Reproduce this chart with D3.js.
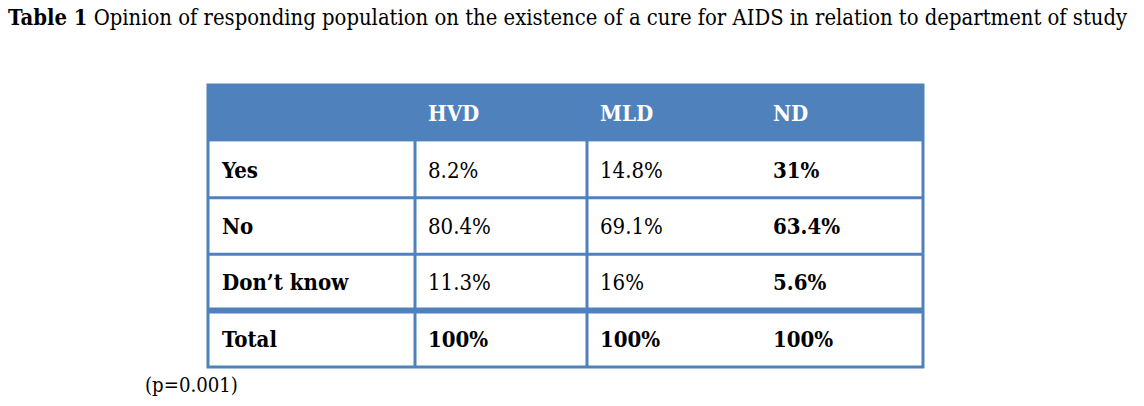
<!DOCTYPE html>
<html>
<head>
<meta charset="utf-8">
<script src="https://cdn.jsdelivr.net/npm/d3@7"></script>
<style>
  html, body { margin: 0; padding: 0; background: #fff; }
  svg { display: block; }
  text { font-family: "DejaVu Serif Condensed", "DejaVu Serif", "Liberation Serif", serif; }
</style>
</head>
<body>
<svg id="chart" width="1144" height="406"></svg>
<script>
// ---- data ----
const titleBold = "Table 1";
const titleRest = " Opinion of responding population on the existence of a cure for AIDS in relation to department of study";
const columns = ["HVD", "MLD", "ND"];
const rowLabels = ["Yes", "No", "Don’t know", "Total"];
const hvdValues = ["8.2%", "80.4%", "11.3%", "100%"];
const mldValues = ["14.8%", "69.1%", "16%", "100%"];
const ndValues = ["31%", "63.4%", "5.6%", "100%"];
const boldColumns = ["ND"];
const boldRows = ["Total"];
const footnote = "(p=0.001)";

// ---- layout ----
const W = 1144, H = 406;
const blue = "#4F81BD";
const tableTop = 85, tableBottom = 367;
const colEdges = [208, 415, 587, 760, 923];

const svg = d3.select("#chart");

// Title, fitted to the reference width
const title = svg.append("text").attr("x", 8).attr("y", 25).attr("font-size", 20).attr("fill", "#000");
title.append("tspan").attr("font-weight", "bold").text(titleBold);
title.append("tspan").text(titleRest);
const tw = title.node().getComputedTextLength();
title.attr("font-size", 20 * 1120 / tw);

// cell font fitted so that "80.4%" is ~63px wide, as in the reference
const probe = svg.append("text").attr("font-size", 20).text(hvdValues[1]);
const cellFont = 20 * 63 / probe.node().getComputedTextLength();
probe.remove();

// scales
const rowKeys = ["__header"].concat(rowLabels);
const y = d3.scaleBand().domain(rowKeys).range([tableTop, tableBottom]).paddingInner(0).paddingOuter(0);
const colKeys = ["__label"].concat(columns);
const x = d3.scaleOrdinal().domain(colKeys).range(colEdges.slice(0, 4));
const colValues = { HVD: hvdValues, MLD: mldValues, ND: ndValues };

// header fill
svg.append("rect")
  .attr("x", colEdges[0]).attr("y", y("__header"))
  .attr("width", colEdges[4] - colEdges[0]).attr("height", y.bandwidth())
  .attr("fill", blue);

// horizontal lines between body rows
rowLabels.forEach((r, i) => {
  if (i === 0) return;
  const yy = y(r);
  const thick = boldRows.includes(r);
  svg.append("line")
    .attr("x1", colEdges[0]).attr("x2", colEdges[4])
    .attr("y1", yy).attr("y2", yy)
    .attr("stroke", blue).attr("stroke-width", thick ? 6 : 3);
});

// vertical lines (label | HVD | MLD+ND)
[colEdges[1], colEdges[2]].forEach(xx => {
  svg.append("line")
    .attr("x1", xx).attr("x2", xx)
    .attr("y1", tableTop).attr("y2", tableBottom)
    .attr("stroke", blue).attr("stroke-width", 3);
});

// outer border
svg.append("rect")
  .attr("x", colEdges[0]).attr("y", tableTop)
  .attr("width", colEdges[4] - colEdges[0]).attr("height", tableBottom - tableTop)
  .attr("fill", "none").attr("stroke", blue).attr("stroke-width", 3);

// header texts
const pad = 13;
svg.selectAll("text.hdr").data(columns).join("text")
  .attr("class", "hdr")
  .attr("x", d => x(d) + pad)
  .attr("y", y("__header") + y.bandwidth() / 2)
  .attr("dy", "0.36em")
  .attr("font-size", cellFont).attr("font-weight", "bold").attr("fill", "#fff")
  .text(d => d);

// row labels
svg.selectAll("text.rl").data(rowLabels).join("text")
  .attr("class", "rl")
  .attr("x", x("__label") + 14)
  .attr("y", d => y(d) + y.bandwidth() / 2)
  .attr("dy", "0.36em")
  .attr("font-size", cellFont).attr("font-weight", "bold").attr("fill", "#000")
  .text(d => d);

// values
columns.forEach(c => {
  svg.selectAll("text.v" + c).data(colValues[c]).join("text")
    .attr("class", "v" + c)
    .attr("x", x(c) + pad)
    .attr("y", (d, i) => y(rowLabels[i]) + y.bandwidth() / 2)
    .attr("dy", "0.36em")
    .attr("font-size", cellFont)
    .attr("font-weight", (d, i) => (boldColumns.includes(c) || boldRows.includes(rowLabels[i])) ? "bold" : "normal")
    .attr("fill", "#000")
    .text(d => d);
});

// footnote, fitted to ~93px wide
const foot = svg.append("text").attr("x", 145).attr("y", 392)
  .attr("font-size", 20).attr("fill", "#000").text(footnote);
foot.attr("font-size", 20 * 93 / foot.node().getComputedTextLength());
</script>
</body>
</html>
